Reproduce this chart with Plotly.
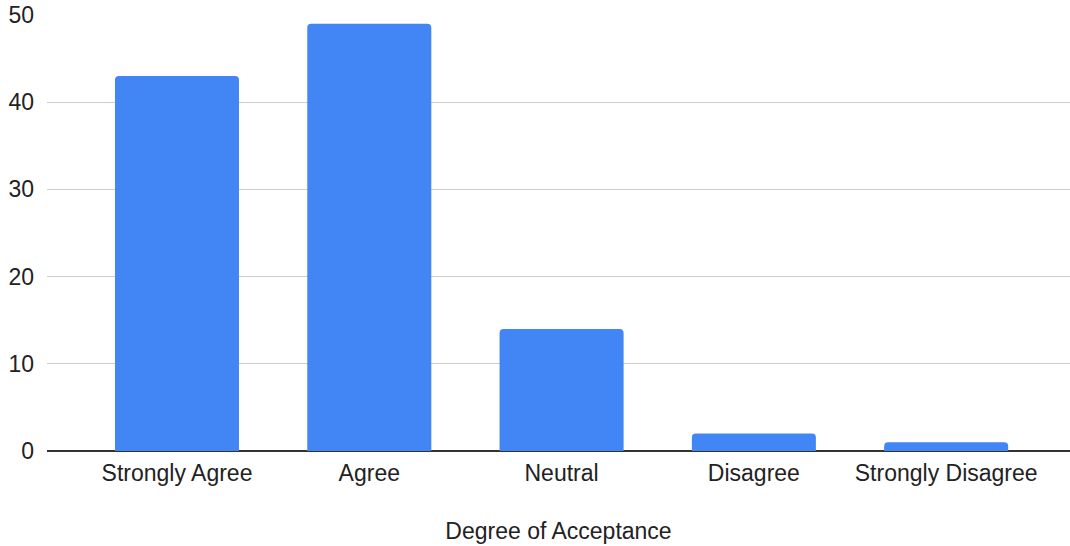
import plotly.graph_objects as go

categories = ["Strongly Agree", "Agree", "Neutral", "Disagree", "Strongly Disagree"]
responses = [43, 49, 14, 2, 1]
y_ticks = [0, 10, 20, 30, 40, 50]

fig = go.Figure(
    go.Bar(
        x=categories,
        y=responses,
        marker=dict(color="#4285F4", line=dict(width=0)),
        width=0.645,
    )
)

fig.update_layout(
    width=1070,
    height=546,
    margin=dict(l=47, r=0, t=15, b=95, autoexpand=False),
    paper_bgcolor="white",
    plot_bgcolor="white",
    font=dict(family="Liberation Sans, Arial, sans-serif", size=23, color="#222222"),
    barcornerradius=4,
    showlegend=False,
    xaxis=dict(
        type="category",
        range=[-0.676, 4.644],
        showgrid=False,
        ticks="",
        ticklabelstandoff=6,
        title=dict(text="Degree of Acceptance", standoff=37,
                   font=dict(size=23, color="#222222")),
        automargin=False,
    ),
    yaxis=dict(
        range=[0, 50],
        tickvals=y_ticks,
        showgrid=True,
        gridcolor="#cccccc",
        gridwidth=1,
        zeroline=True,
        zerolinecolor="#333333",
        zerolinewidth=1.5,
        ticks="",
        ticklabelstandoff=12,
        automargin=False,
    ),
)

fig.write_html("out.html")
